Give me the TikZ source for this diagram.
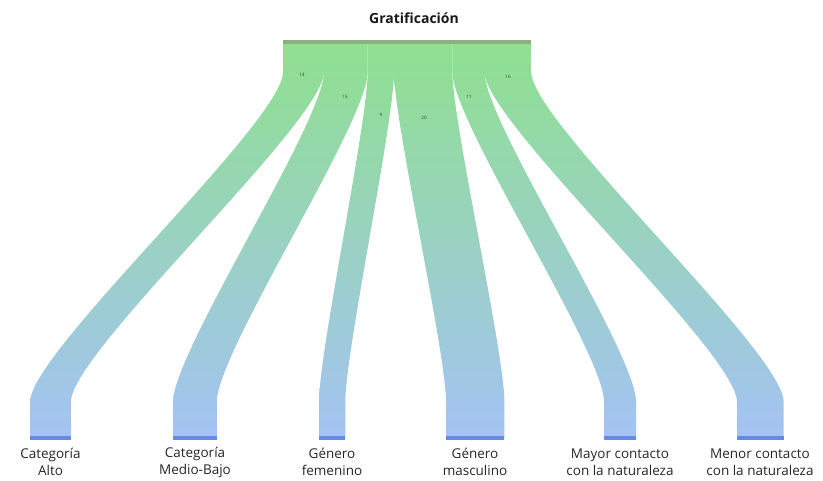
\documentclass[tikz,border=0pt]{standalone}
\usepackage{fontspec}
\setmainfont{Open Sans}
\definecolor{flowtop}{RGB}{143,224,143}
\definecolor{flowbot}{RGB}{164,195,244}
\definecolor{srcbar}{RGB}{140,175,130}
\definecolor{dstbar}{RGB}{100,140,228}
\definecolor{numcol}{RGB}{30,70,30}
\tikzset{
  lbl/.style={align=center,font=\fontsize{13.5}{17}\selectfont,text=black!85,inner sep=0pt},
  num/.style={font=\fontsize{4.5}{5}\selectfont,text=numcol,inner sep=0pt},
  flowfill/.style={top color=flowtop,bottom color=flowbot,draw=none}
}
\newcommand{\flowband}[4]{% top-left, top-right, bottom-left, bottom-right
  \shade[flowfill] (#1,42) -- (#1,72) .. controls (#1,122) and (#3,352) .. (#3,402) -- (#3,438)
    -- (#4,438) -- (#4,402) .. controls (#4,352) and (#2,122) .. (#2,72) -- (#2,42) -- cycle;}
\begin{document}
\begin{tikzpicture}[x=1pt,y=-1pt]
\useasboundingbox (0,0) rectangle (823,481);
% flows
\flowband{283}{323.9}{30}{70.9}
\flowband{323.9}{367.7}{173}{216.8}
\flowband{367.7}{394.0}{319}{345.3}
\flowband{394.0}{452.4}{446}{504.4}
\flowband{452.4}{484.5}{604}{636.1}
\flowband{484.5}{531.2}{737}{783.7}
% source bar
\fill[srcbar] (283,40) rectangle (531.2,44.5);
% target bars
\fill[dstbar] (30,436) rectangle (70.9,440);
\fill[dstbar] (173,436) rectangle (216.8,440);
\fill[dstbar] (319,436) rectangle (345.3,440);
\fill[dstbar] (446,436) rectangle (504.4,440);
\fill[dstbar] (604,436) rectangle (636.1,440);
\fill[dstbar] (737,436) rectangle (783.7,440);
% title
\node[font=\fontsize{14}{16}\selectfont\bfseries,text=black!90] (title) at (414,18) {Gratificación};
% flow values
\node[num] (v1) at (302,75) {14};
\node[num] (v2) at (345,97) {15};
\node[num] (v3) at (381,115) {9};
\node[num] (v4) at (424,118) {20};
\node[num] (v5) at (469,97) {11};
\node[num] (v6) at (508,77) {16};
% target labels
\node[lbl] (t1) at (50.5,462) {Categoría\\Alto};
\node[lbl] (t2) at (195,462) {Categoría\\Medio-Bajo};
\node[lbl] (t3) at (332,462) {Género\\femenino};
\node[lbl] (t4) at (475,462) {Género\\masculino};
\node[lbl] (t5) at (620,462) {Mayor contacto\\con la naturaleza};
\node[lbl] (t6) at (760,462) {Menor contacto\\con la naturaleza};
\end{tikzpicture}
\end{document}
